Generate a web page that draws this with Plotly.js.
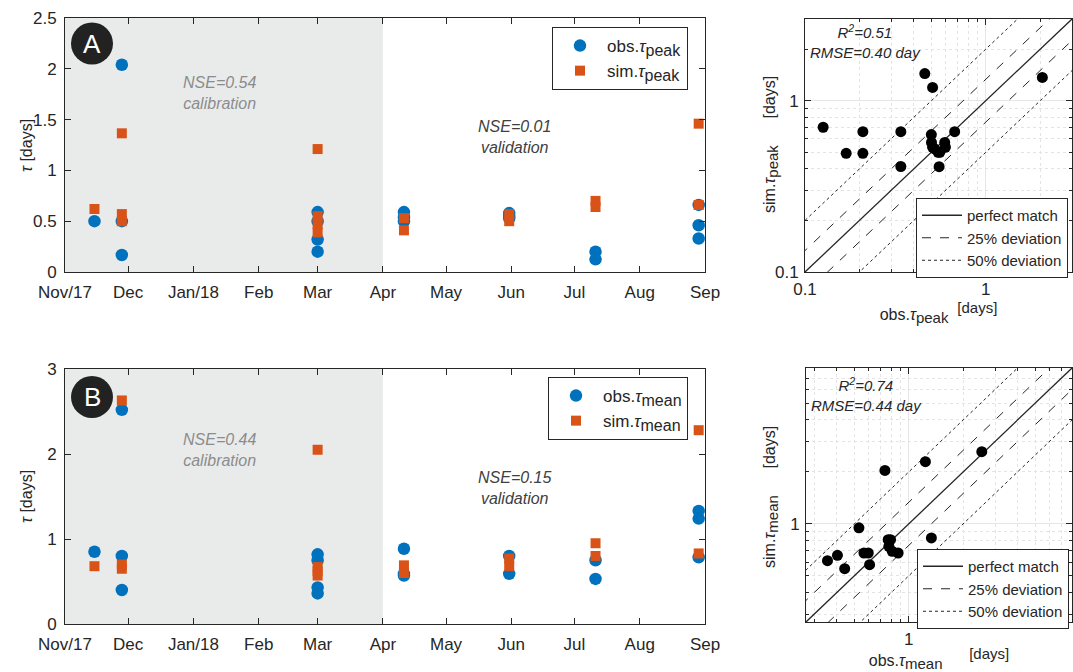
<!DOCTYPE html>
<html>
<head>
<meta charset="utf-8">
<script src="https://cdn.plot.ly/plotly-3.0.1.min.js"></script>
<style>html,body{margin:0;padding:0;background:#fff}#chart{width:1073px;height:672px}</style>
</head>
<body>
<div id="chart"></div>
<script>
// ---------- data ----------
const monthTicks = ['2017-11-01','2017-12-01','2018-01-01','2018-02-01','2018-03-01','2018-04-01','2018-05-01','2018-06-01','2018-07-01','2018-08-01','2018-09-01'];
const monthLabels = ['Nov/17','Dec','Jan/18','Feb','Mar','Apr','May','Jun','Jul','Aug','Sep'];
const calibStart = '2017-11-01';
const calibEnd = '2018-04-01';

// panel A: tau_peak time series
const peakObsDates = ['2017-11-15','2017-11-28','2017-11-28','2017-11-28','2018-03-01','2018-03-01','2018-03-01','2018-03-01','2018-04-11','2018-04-11','2018-04-11','2018-05-31','2018-05-31','2018-05-31','2018-07-11','2018-07-11','2018-08-29','2018-08-29','2018-08-29'];
const peakObsVals  = [0.50, 2.04, 0.50, 0.167, 0.59, 0.50, 0.32, 0.20, 0.59, 0.54, 0.50, 0.58, 0.55, 0.53, 0.20, 0.125, 0.66, 0.46, 0.33];
const peakSimDates = ['2017-11-15','2017-11-28','2017-11-28','2017-11-28','2018-03-01','2018-03-01','2018-03-01','2018-03-01','2018-04-11','2018-04-11','2018-05-31','2018-05-31','2018-07-11','2018-07-11','2018-08-29','2018-08-29'];
const peakSimVals  = [0.62, 1.365, 0.57, 0.50, 1.21, 0.55, 0.47, 0.39, 0.53, 0.41, 0.57, 0.50, 0.70, 0.64, 1.46, 0.66];

// panel B: tau_mean time series
const meanObsDates = ['2017-11-15','2017-11-28','2017-11-28','2017-11-28','2018-03-01','2018-03-01','2018-03-01','2018-03-01','2018-04-11','2018-04-11','2018-04-11','2018-05-31','2018-05-31','2018-07-11','2018-07-11','2018-08-29','2018-08-29','2018-08-29'];
const meanObsVals  = [0.85, 2.52, 0.80, 0.40, 0.82, 0.75, 0.43, 0.36, 0.885, 0.59, 0.57, 0.80, 0.59, 0.75, 0.53, 1.33, 1.24, 0.785];
const meanSimDates = ['2017-11-15','2017-11-28','2017-11-28','2017-11-28','2018-03-01','2018-03-01','2018-03-01','2018-03-01','2018-04-11','2018-04-11','2018-05-31','2018-05-31','2018-07-11','2018-07-11','2018-08-29','2018-08-29'];
const meanSimVals  = [0.68, 2.63, 0.70, 0.65, 2.05, 0.67, 0.62, 0.57, 0.69, 0.60, 0.77, 0.68, 0.95, 0.80, 2.28, 0.83];

// scatter: obs vs sim tau_peak
const scPeakObs = [0.126, 0.169, 0.209, 0.209, 0.339, 0.339, 0.46, 0.508, 0.50, 0.501, 0.508, 0.522, 0.545, 0.557, 0.593, 0.598, 0.552, 0.673, 2.056];
const scPeakSim = [0.70, 0.493, 0.66, 0.493, 0.66, 0.413, 1.44, 1.196, 0.634, 0.571, 0.535, 0.523, 0.50, 0.50, 0.571, 0.535, 0.412, 0.66, 1.367];

// scatter: obs vs sim tau_mean
const scMeanObs = [0.355, 0.403, 0.442, 0.53, 0.565, 0.597, 0.607, 0.738, 0.769, 0.793, 0.776, 0.81, 0.873, 1.236, 1.334, 2.535];
const scMeanSim = [0.612, 0.657, 0.55, 0.948, 0.678, 0.678, 0.58, 2.04, 0.81, 0.81, 0.741, 0.693, 0.678, 2.294, 0.829, 2.62];

// reference lines: sim = factor * obs
const refFactors = [1, 1/0.75, 0.75, 2, 0.5];
const refNames   = ['perfect match', '25% deviation', '25% deviation', '50% deviation', '50% deviation'];
const refDash    = ['solid', 'dash', 'dash', 'dot', 'dot'];

const peakRange = [0.1, 3];
const meanRange = [0.27, 8];

// ---------- styling ----------
const W = 1073, H = 672;
const FONT = 'Liberation Sans, Arial, Helvetica, sans-serif';
const AX = '#262626';
const BLUE = '#0072BD', ORANGE = '#D95319';
const NB = '\u00a0';
const fx = px => px / W;
const fy = py => 1 - py / H;
const sub = (s, sz) => '<sub><span style="font-size:' + (sz || 15) + 'px">' + s + '</span></sub>';
const raised = s => '<sup><span style="font-size:15px">' + s + '</span></sup>';

const traces = [];
// time series
traces.push({x: peakObsDates, y: peakObsVals, type:'scatter', mode:'markers', xaxis:'x', yaxis:'y',
  name:'obs.<i>τ</i>' + sub('peak', 16), legend:'legend', marker:{color:BLUE, size:12.5, symbol:'circle'}});
traces.push({x: peakSimDates, y: peakSimVals, type:'scatter', mode:'markers', xaxis:'x', yaxis:'y',
  name:'sim.<i>τ</i>' + sub('peak', 16), legend:'legend', marker:{color:ORANGE, size:10, symbol:'square'}});
traces.push({x: meanObsDates, y: meanObsVals, type:'scatter', mode:'markers', xaxis:'x2', yaxis:'y2',
  name:'obs.<i>τ</i>' + sub('mean', 16), legend:'legend2', marker:{color:BLUE, size:12.5, symbol:'circle'}});
traces.push({x: meanSimDates, y: meanSimVals, type:'scatter', mode:'markers', xaxis:'x2', yaxis:'y2',
  name:'sim.<i>τ</i>' + sub('mean', 16), legend:'legend2', marker:{color:ORANGE, size:10, symbol:'square'}});

// reference lines
function addRefs(rng, xa, ya, lg) {
  const seen = {};
  refFactors.forEach((f, i) => {
    const nm = refNames[i];
    traces.push({x: [rng[0]/4, rng[1]*4], y: [rng[0]/4*f, rng[1]*4*f], type:'scatter', mode:'lines',
      xaxis: xa, yaxis: ya, name: nm, legend: lg, legendgroup: lg + nm, showlegend: !seen[nm],
      line: {color: AX, width: refDash[i]==='solid' ? 1.3 : 1, dash: refDash[i]}, hoverinfo:'skip'});
    seen[nm] = true;
  });
}
addRefs(peakRange, 'x3', 'y3', 'legend3');
addRefs(meanRange, 'x4', 'y4', 'legend4');

traces.push({x: scPeakObs, y: scPeakSim, type:'scatter', mode:'markers', xaxis:'x3', yaxis:'y3', showlegend:false,
  marker:{color:'#000', size:11}});
traces.push({x: scMeanObs, y: scMeanSim, type:'scatter', mode:'markers', xaxis:'x4', yaxis:'y4', showlegend:false,
  marker:{color:'#000', size:11}});

// ---------- axes ----------
function timeX(dom, anchor) {
  return {domain: dom, anchor: anchor, type:'date', range:[monthTicks[0], monthTicks[monthTicks.length-1]],
    tickmode:'array', tickvals: monthTicks, ticktext: monthLabels,
    ticks:'inside', ticklen:6, tickcolor:AX, showline:true, linecolor:AX, linewidth:1, mirror:'allticks',
    showgrid:false, zeroline:false, ticklabelstandoff:5, tickfont:{size:17, color:AX, family:FONT}};
}
function timeY(dom, anchor, top, step) {
  const tv = []; for (let v = 0; v <= top + 1e-9; v += step) tv.push(+v.toFixed(2));
  return {domain: dom, anchor: anchor, range:[0, top], tickmode:'array', tickvals: tv, ticktext: tv.map(String),
    ticks:'inside', ticklen:6, tickcolor:AX, showline:true, linecolor:AX, linewidth:1, mirror:'allticks',
    showgrid:false, zeroline:false, ticklabelstandoff:4, tickfont:{size:17, color:AX, family:FONT}};
}
function logAx(dom, anchor, rng, tv, title) {
  const ax = {domain: dom, anchor: anchor, type:'log', range:[Math.log10(rng[0]), Math.log10(rng[1])],
    tickmode:'array', tickvals: tv, ticktext: tv.map(String),
    ticks:'inside', ticklen:6, tickcolor:AX, showline:true, linecolor:AX, linewidth:1, mirror:'allticks',
    showgrid:true, gridcolor:'#e6e6e6', gridwidth:1, zeroline:false,
    minor:{dtick:'D1', showgrid:true, gridcolor:'#e4e4e4', griddash:'dot', gridwidth:1, ticks:'inside', ticklen:3, tickcolor:AX},
    ticklabelstandoff: 2,
    tickfont:{size:17, color:AX, family:FONT}};
  if (title) ax.title = {text:title, font:{size:16, color:AX, family:FONT}, standoff:4};
  return ax;
}

const legFont = {size:17, family:FONT, color:AX};
const legFont2 = {size:15, family:FONT, color:AX};
const yTitle = (x, y, text, sz) => ({xref:'paper', yref:'paper', x: fx(x), y: fy(y), xanchor:'center', yanchor:'middle',
  textangle:-90, text: text, showarrow:false, font:{size: sz, color:AX, family:FONT}});

const layout = {
  width: W, height: H, margin:{l:0, r:0, t:0, b:0}, paper_bgcolor:'#fff', plot_bgcolor:'rgba(0,0,0,0)',
  font:{family:FONT, color:AX},
  xaxis:  timeX([fx(65), fx(705)], 'y'),
  yaxis:  timeY([fy(272), fy(18)], 'x', 2.5, 0.5),
  xaxis2: timeX([fx(65), fx(705)], 'y2'),
  yaxis2: timeY([fy(624), fy(369)], 'x2', 3, 1),
  xaxis3: logAx([fx(805), fx(1072)], 'y3', peakRange, [0.1, 1], 'obs.<i>τ</i>' + sub('peak') + '  ' + raised('[days]')),
  yaxis3: logAx([fy(272), fy(19)], 'x3', peakRange, [0.1, 1], null),
  xaxis4: logAx([fx(806), fx(1072)], 'y4', meanRange, [1], NB.repeat(8) + 'obs.<i>τ</i>' + sub('mean') + '      ' + raised('[days]')),
  yaxis4: logAx([fy(622), fy(368)], 'x4', meanRange, [1], null),
  showlegend: true,
  legend:  {x: fx(552), y: fy(27), xanchor:'left', yanchor:'top', bgcolor:'#fff', bordercolor:AX, borderwidth:1,
            font:legFont, itemwidth:44, tracegroupgap:2},
  legend2: {x: fx(548), y: fy(377), xanchor:'left', yanchor:'top', bgcolor:'#fff', bordercolor:AX, borderwidth:1,
            font:legFont, itemwidth:44, tracegroupgap:2},
  legend3: {x: fx(916), y: fy(198), xanchor:'left', yanchor:'top', bgcolor:'#fff', bordercolor:AX, borderwidth:1,
            font:legFont2, itemwidth:40, tracegroupgap:0},
  legend4: {x: fx(917), y: fy(549), xanchor:'left', yanchor:'top', bgcolor:'#fff', bordercolor:AX, borderwidth:1,
            font:legFont2, itemwidth:40, tracegroupgap:0},
  shapes: [
    {type:'rect', xref:'x', yref:'y domain', x0:calibStart, x1:calibEnd, y0:0, y1:1, fillcolor:'#e9ebeb', line:{width:0}, layer:'below'},
    {type:'rect', xref:'x2', yref:'y2 domain', x0:calibStart, x1:calibEnd, y0:0, y1:1, fillcolor:'#e9ebeb', line:{width:0}, layer:'below'},
    {type:'circle', xref:'paper', yref:'paper', x0:fx(71), x1:fx(113), y0:fy(64.5), y1:fy(22.5), fillcolor:'#222', line:{width:0}},
    {type:'circle', xref:'paper', yref:'paper', x0:fx(71), x1:fx(113), y0:fy(418), y1:fy(376), fillcolor:'#222', line:{width:0}}
  ],
  annotations: [
    {xref:'paper', yref:'paper', x:fx(92), y:fy(43.5), xanchor:'center', yanchor:'middle', text:'A', showarrow:false, font:{size:26, color:'#fff', family:FONT}},
    {xref:'paper', yref:'paper', x:fx(92), y:fy(397), xanchor:'center', yanchor:'middle', text:'B', showarrow:false, font:{size:26, color:'#fff', family:FONT}},
    {xref:'x domain', yref:'y domain', x:0.242, y:0.705, xanchor:'center', yanchor:'middle', text:'<i>NSE=0.54</i><br><i>calibration</i>', showarrow:false,
      font:{size:16, color:'#8c8c8c', family:FONT}},
    {xref:'x domain', yref:'y domain', x:0.702, y:0.531, xanchor:'center', yanchor:'middle', text:'<i>NSE=0.01</i><br><i>validation</i>', showarrow:false,
      font:{size:16, color:'#404040', family:FONT}},
    {xref:'x2 domain', yref:'y2 domain', x:0.242, y:0.682, xanchor:'center', yanchor:'middle', text:'<i>NSE=0.44</i><br><i>calibration</i>', showarrow:false,
      font:{size:16, color:'#8c8c8c', family:FONT}},
    {xref:'x2 domain', yref:'y2 domain', x:0.702, y:0.533, xanchor:'center', yanchor:'middle', text:'<i>NSE=0.15</i><br><i>validation</i>', showarrow:false,
      font:{size:16, color:'#404040', family:FONT}},
    {xref:'x3 domain', yref:'y3 domain', x:0.228, y:0.913, xanchor:'center', yanchor:'middle', text:'<i>R<sup>2</sup>=0.51</i><br><i>RMSE=0.40 day</i>', showarrow:false,
      font:{size:15, color:AX, family:FONT}},
    {xref:'x4 domain', yref:'y4 domain', x:0.228, y:0.895, xanchor:'center', yanchor:'middle', text:'<i>R<sup>2</sup>=0.74</i><br><i>RMSE=0.44 day</i>', showarrow:false,
      font:{size:15, color:AX, family:FONT}},
    yTitle(26, 146, '<i>τ</i> [days]', 16),
    yTitle(26, 497, '<i>τ</i> [days]', 16),
    yTitle(771, 145, 'sim.<i>τ</i>' + sub('peak') + '      [days]', 16),
    yTitle(771, 497, 'sim.<i>τ</i>' + sub('mean') + '      [days]', 16)
  ]
};

Plotly.newPlot('chart', traces, layout, {staticPlot:true, displayModeBar:false});
</script>
</body>
</html>
